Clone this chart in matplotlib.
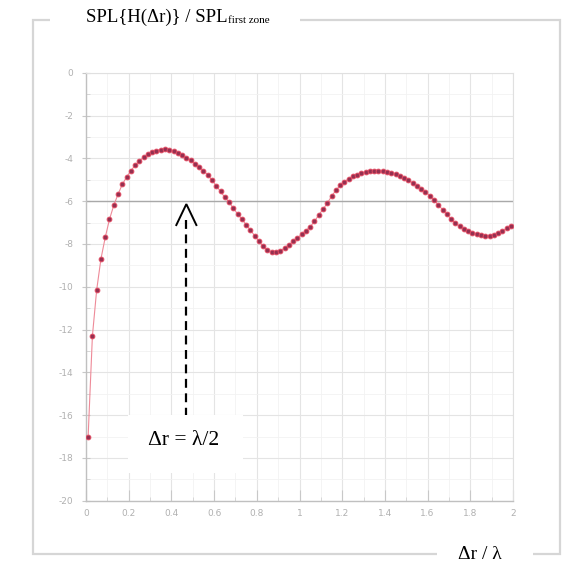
import numpy as np
import matplotlib
matplotlib.use("Agg")
import matplotlib.pyplot as plt
from matplotlib.patches import Rectangle
from matplotlib.ticker import MultipleLocator

plt.rcParams['axes.unicode_minus'] = False

# ---- data ----
dr_over_lambda = np.round(np.arange(0.01, 2.0, 0.02), 2)
spl_ratio_db = [
    -17.0, -12.3, -10.15, -8.7, -7.7, -6.85, -6.2, -5.68, -5.22, -4.88,
    -4.58, -4.33, -4.12, -3.95, -3.82, -3.72, -3.64, -3.59, -3.58, -3.60,
    -3.66, -3.75, -3.85, -3.97, -4.10, -4.25, -4.42, -4.58, -4.77, -5.02,
    -5.28, -5.55, -5.82, -6.05, -6.33, -6.60, -6.84, -7.10, -7.35, -7.62,
    -7.88, -8.12, -8.30, -8.40, -8.40, -8.32, -8.20, -8.05, -7.88, -7.72,
    -7.55, -7.38, -7.20, -6.95, -6.65, -6.38, -6.10, -5.78, -5.50, -5.27,
    -5.10, -4.96, -4.85, -4.76, -4.69, -4.64, -4.61, -4.59, -4.59, -4.60,
    -4.63, -4.68, -4.75, -4.84, -4.93, -5.03, -5.15, -5.28, -5.42, -5.56,
    -5.75, -5.95, -6.17, -6.40, -6.62, -6.84, -7.03, -7.18, -7.31, -7.42,
    -7.50, -7.56, -7.60, -7.62, -7.61, -7.57, -7.50, -7.40, -7.28, -7.15,
]
reference_level = -6
x_ticks = [0, 0.2, 0.4, 0.6, 0.8, 1.0, 1.2, 1.4, 1.6, 1.8, 2.0]
x_tick_labels = ["0", "0.2", "0.4", "0.6", "0.8", "1", "1.2", "1.4", "1.6", "1.8", "2"]
y_ticks = [0, -2, -4, -6, -8, -10, -12, -14, -16, -18, -20]
y_tick_labels = [str(v) for v in y_ticks]
title_main = "SPL{H(\u0394r)} / SPL"
title_sub = "first zone"
x_label = "\u0394r / \u03bb"
annot_text = "\u0394r = \u03bb/2"
annot_x = 0.47

W, H = 562, 565
fig = plt.figure(figsize=(W / 100, H / 100), dpi=100)
fig.patch.set_facecolor("white")

def fx(px):
    return px / W

def fy(py):
    return 1 - py / H

# outer frame
fig.add_artist(Rectangle((fx(33), fy(554)), fx(560) - fx(33), fy(20) - fy(554),
                         transform=fig.transFigure, fill=False,
                         edgecolor="#d6d6d6", linewidth=1.6, zorder=0))

ax = fig.add_axes([fx(86), fy(500.7), fx(513) - fx(86), fy(72.7) - fy(500.7)])
ax.set_xlim(0, 2)
ax.set_ylim(-20, 0)

ax.xaxis.set_minor_locator(MultipleLocator(0.1))
ax.yaxis.set_minor_locator(MultipleLocator(1))
ax.set_xticks(x_ticks)
ax.set_xticklabels(x_tick_labels)
ax.set_yticks(y_ticks)
ax.set_yticklabels(y_tick_labels)
ax.grid(which="major", color="#e4e4e4", linewidth=0.8)
ax.grid(which="minor", color="#f2f2f2", linewidth=0.6)
ax.set_axisbelow(True)

for side in ["top", "right"]:
    ax.spines[side].set_color("#e0e0e0")
    ax.spines[side].set_linewidth(0.8)
for side in ["left", "bottom"]:
    ax.spines[side].set_color("#c0c0c0")
    ax.spines[side].set_linewidth(1.0)

ax.tick_params(axis="both", which="major", labelsize=6.5, labelcolor="#b0b0b0",
               color="#c8c8c8", direction="inout", length=6, width=0.8, pad=6)
ax.tick_params(axis="both", which="minor", color="#d2d2d2", direction="in",
               length=3, width=0.6)
ax.tick_params(axis="x", which="major", direction="in", length=8)

# -6 dB reference line
ax.axhline(reference_level, color="#a9a9a9", linewidth=1.0, zorder=2)

# data curve
ax.plot(dr_over_lambda, spl_ratio_db, color="#ee8a98", linewidth=0.8, zorder=3)
ax.plot(dr_over_lambda, spl_ratio_db, linestyle="none", marker="o", markersize=3.4,
        markerfacecolor="#953050", markeredgecolor="#e04a62",
        markeredgewidth=0.7, zorder=4)

# annotation: dashed line with open arrow head
ax.plot([annot_x, annot_x], [-6.9, -16.0], color="black", linewidth=1.6,
        linestyle=(0, (4, 2.5)), zorder=5)
ax.plot([annot_x - 0.047, annot_x, annot_x + 0.047], [-7.12, -6.14, -7.12],
        color="black", linewidth=1.4, zorder=5, solid_joinstyle="miter")

ax.add_patch(Rectangle((0.197, -18.7), 0.54, 2.7, facecolor="white",
                       edgecolor="none", zorder=6))
ax.text(0.455, -17.2, annot_text, fontsize=15.5, family="Liberation Serif",
        ha="center", va="center", zorder=7)

# title in white box on the frame
fig.add_artist(Rectangle((fx(50), fy(34)), fx(300) - fx(50), fy(4) - fy(34),
                         transform=fig.transFigure, facecolor="white",
                         edgecolor="none", zorder=1))
t1 = fig.text(fx(86), fy(22), title_main, fontsize=13.5,
              family="Liberation Serif", ha="left", va="baseline", zorder=2)
fig.canvas.draw()
bb = t1.get_window_extent(renderer=fig.canvas.get_renderer())
fig.text((bb.x1 + 0.5) / W, fy(23), title_sub, fontsize=8,
         family="Liberation Serif", ha="left", va="baseline", zorder=2)

# x label in white box on bottom frame
fig.add_artist(Rectangle((fx(437), fy(565)), fx(533) - fx(437), fy(543) - fy(565),
                         transform=fig.transFigure, facecolor="white",
                         edgecolor="none", zorder=1))
fig.text(fx(480), fy(559), x_label, fontsize=14, family="Liberation Serif",
         ha="center", va="baseline", zorder=2)

fig.savefig("out.png", dpi=100, facecolor="white")
